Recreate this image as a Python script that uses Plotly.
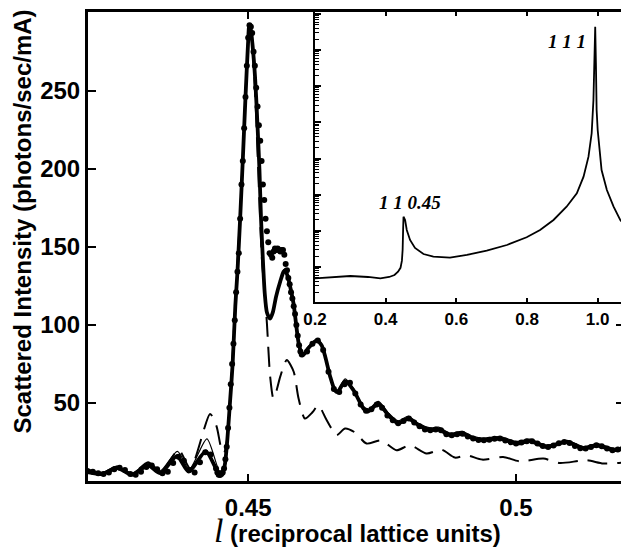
import plotly.graph_objects as go

# ---------------- main panel: measured data (dots) ----------------
l_data = [0.420, 0.421, 0.422, 0.423, 0.424, 0.425, 0.426, 0.427, 0.428, 0.429,
          0.430, 0.431, 0.432, 0.433, 0.434, 0.435, 0.436, 0.437, 0.438, 0.439,
          0.440, 0.441, 0.442, 0.443, 0.444,
          0.44425, 0.4445, 0.44475, 0.4450, 0.44525, 0.4455, 0.44575, 0.4460,
          0.44625, 0.4465, 0.44675, 0.4470, 0.44725, 0.4475, 0.44775, 0.4480,
          0.44825, 0.4485, 0.44875, 0.4490, 0.44925, 0.4495, 0.44975, 0.4500,
          0.45025, 0.4505, 0.45075, 0.4510, 0.45125, 0.4515, 0.45175, 0.4520,
          0.45225, 0.4525, 0.45275, 0.4530, 0.45325, 0.4535, 0.45375, 0.4540,
          0.45425, 0.4545, 0.45475, 0.4550, 0.45525, 0.4555, 0.45575, 0.4560,
          0.45625, 0.4565, 0.45675, 0.4570, 0.45725, 0.4575, 0.45775, 0.4580,
          0.45825, 0.4585, 0.45875, 0.4590, 0.45925, 0.4595, 0.45975, 0.4600,
          0.461, 0.462, 0.463, 0.464, 0.465, 0.466, 0.467, 0.468, 0.469, 0.470,
          0.471, 0.472, 0.473, 0.474, 0.475, 0.476, 0.477, 0.478, 0.479, 0.480,
          0.481, 0.482, 0.483, 0.484, 0.485, 0.486, 0.487, 0.488, 0.489, 0.490,
          0.491, 0.492, 0.493, 0.494, 0.495, 0.496, 0.497, 0.498, 0.499, 0.500,
          0.501, 0.502, 0.503, 0.504, 0.505, 0.506, 0.507, 0.508, 0.509, 0.510,
          0.511, 0.512, 0.513, 0.514, 0.515, 0.516, 0.517, 0.518, 0.519, 0.520]
I_data = [6.5, 6.0, 5.0, 4.5, 5.5, 7.5, 8.5, 7.0, 4.5, 4.0,
          6.0, 9.0, 10.0, 7.5, 5.0, 6.0, 11.5, 15.5, 13.0, 7.0,
          5.5, 12.0, 18.5, 17.0, 8.0,
          5.5, 4.0, 3.8, 4.5, 5.5, 8.0, 14, 22,
          34, 47, 62, 75, 88, 103, 121, 134,
          146, 168, 190, 205, 226, 246, 266, 284,
          292, 291, 287, 275, 266, 252, 240, 228,
          218, 205, 190, 180, 168, 160, 153, 146,
          145, 143, 147, 149, 148, 149, 148, 147,
          148, 148, 145, 139, 135, 130, 126, 121,
          117, 112, 107, 100, 93, 87, 83, 81,
          83, 88, 90, 84, 70, 59, 57, 62, 63, 56,
          49, 45, 46, 49, 47, 42, 39, 37, 38.5, 40,
          37.5, 35, 33, 32.5, 33, 32.5, 30, 29.3, 30, 30.3,
          28.5, 27.2, 26.3, 26.1, 26.5, 27, 27.2, 26, 24.8, 24,
          24.6, 25.4, 25.4, 24, 22.5, 21.8, 22.8, 24.2, 25, 24.3,
          22.5, 21, 20.8, 21.8, 22.9, 22.2, 20.8, 19.7, 20.2, 21]

# ---------------- main panel: fit 1 (thick solid) ----------------
l_fit1 = [0.4195, 0.4201, 0.4228, 0.4255, 0.4283, 0.4313, 0.4336, 0.4367, 0.4389, 0.4421,
          0.4447, 0.4455, 0.4460, 0.4466, 0.4471, 0.4476, 0.4480, 0.4485, 0.4490,
          0.4495, 0.4500, 0.4502, 0.4505, 0.4508, 0.4513, 0.4517, 0.4521, 0.4524,
          0.4528, 0.4531, 0.4535, 0.4541, 0.4546, 0.4552, 0.4560, 0.4566, 0.4569,
          0.4574, 0.4580, 0.4585, 0.4590, 0.4595, 0.4602, 0.4612, 0.4628, 0.4637,
          0.4644, 0.4653, 0.4662, 0.4667, 0.4681, 0.4697, 0.4715, 0.4724, 0.4743,
          0.4762, 0.4780, 0.4799, 0.4818, 0.4840, 0.4855, 0.4877, 0.4899, 0.4920,
          0.4939, 0.4970, 0.5001, 0.5026, 0.5057, 0.5095, 0.5126, 0.5151, 0.5182, 0.5200]
I_fit1 = [6.8, 6.5, 4.5, 8.5, 4.0, 10, 5, 16, 6, 19,
          4, 8, 22, 50, 75, 112, 134, 168, 206,
          246, 282, 292, 289, 280, 258, 231, 200, 168,
          138, 120, 108, 104, 108, 118, 128, 134, 135,
          131, 122, 113, 99, 87, 80.5, 85, 90, 87,
          79.5, 67, 58, 57, 64, 58, 46.5, 44.5, 49.5,
          42, 37, 40, 35.7, 32.5, 33, 29.3, 30.4, 27.2,
          26.1, 27.2, 24, 25.6, 21.8, 25, 20.8, 22.9, 19.7, 20.5]

# ---------------- main panel: fit 2 (thin solid) ----------------
l_fit2 = [0.4195, 0.4201, 0.4228, 0.4255, 0.4283, 0.4313, 0.4336, 0.4368, 0.4390, 0.4423,
          0.4447, 0.4455, 0.4460, 0.4466, 0.4471, 0.4476, 0.4480, 0.4485, 0.4490,
          0.4495, 0.4500, 0.4502, 0.4505, 0.4508, 0.4513, 0.4517, 0.4521, 0.4524,
          0.4528, 0.4531, 0.4535, 0.4541, 0.4546, 0.4552, 0.4560, 0.4566, 0.4569,
          0.4574, 0.4580, 0.4585, 0.4590, 0.4595, 0.4602, 0.4612, 0.4628, 0.4637,
          0.4644, 0.4653, 0.4662, 0.4667, 0.4681, 0.4697, 0.4715, 0.4724, 0.4743,
          0.4762, 0.4780, 0.4799, 0.4818, 0.4840, 0.4855, 0.4877, 0.4899, 0.4920,
          0.4939, 0.4970, 0.5001, 0.5026, 0.5057, 0.5095, 0.5126, 0.5151, 0.5182, 0.5200]
I_fit2 = [8.0, 7.5, 5.5, 9.5, 5.0, 11.5, 6.5, 19, 7.5, 27,
          6, 9, 22, 50, 76, 112, 134, 168, 206,
          246, 282, 292, 289, 280, 258, 231, 200, 168,
          138, 120, 107, 104, 108, 118, 129, 135, 136,
          132, 123, 114, 100, 88, 81.5, 86, 91, 88,
          80.5, 68, 59, 58, 65.5, 59, 48, 46, 51,
          43.5, 38.5, 41.5, 37, 34, 34.5, 30.7, 31.8, 28.6,
          27.5, 28.5, 25.3, 26.8, 23, 26, 22, 24, 21, 21.6]

# ---------------- main panel: fit 3 (dashed) ----------------
l_fit3 = [0.4195, 0.4201, 0.4228, 0.4255, 0.4283, 0.4313, 0.4338, 0.4370, 0.4392, 0.4429,
          0.4441, 0.4449, 0.4455, 0.4460, 0.4466, 0.4471, 0.4476, 0.4480, 0.4485,
          0.4490, 0.4495, 0.4500, 0.4502, 0.4507, 0.4512, 0.4517, 0.4522, 0.4526,
          0.4530, 0.4535, 0.4541, 0.4547, 0.4553, 0.4560, 0.4572, 0.4585, 0.4594,
          0.4606, 0.4620, 0.4631, 0.4645, 0.4655, 0.4665, 0.4681, 0.4700, 0.4721,
          0.4748, 0.4777, 0.4802, 0.4833, 0.4861, 0.4886, 0.4908, 0.4937, 0.4976,
          0.5007, 0.5051, 0.5082, 0.5131, 0.5163, 0.5200]
I_fit3 = [5.5, 5, 4, 9, 4.5, 12, 6, 20, 8, 43,
          35, 22, 18, 25, 50, 80, 115, 140, 170,
          208, 248, 283, 292, 282, 255, 215, 170, 140,
          124, 101, 67, 53, 58, 67, 77.5, 70, 53,
          40, 44, 48.5, 40, 34, 29.3, 33.6, 31, 24,
          26, 19.7, 22.9, 17.6, 20.1, 15, 16.5, 13.7, 15.4,
          12.6, 14.4, 11.5, 13.3, 11.2, 11.8]

# ---------------- inset: wide l scan (log intensity) ----------------
l_wide = [0.20, 0.25, 0.30, 0.35, 0.385, 0.41, 0.425, 0.435, 0.442, 0.446,
          0.448, 0.4495, 0.4505, 0.455, 0.4597, 0.469, 0.483, 0.507, 0.535, 0.582,
          0.63, 0.686, 0.743, 0.799, 0.837, 0.875, 0.912, 0.941, 0.96, 0.974,
          0.983, 0.988, 0.991, 0.993, 0.995, 0.997, 1.0, 1.004, 1.011, 1.026,
          1.045, 1.064, 1.07]
I_wide = [4.86, 5.2, 5.64, 5.3, 4.86, 5.3, 6.0, 7.4, 9.5, 15,
          30, 120, 247, 200, 106, 56, 33.6, 22.9, 19.3, 18.1,
          21.5, 28.2, 40.6, 66.4, 106, 200, 466, 1094, 3155, 11270,
          50100, 418000, 1.01e7, 4.46e7, 4.46e6, 2.21e5, 61700, 21300, 4830, 1350,
          466, 200, 170]

# tick labels
main_xticks = [0.45, 0.5]
main_xticklabels = ["0.45", "0.5"]
main_yticks = [50, 100, 150, 200, 250]
inset_xticks = [0.2, 0.4, 0.6, 0.8, 1.0]
inset_xticklabels = ["0.2", "0.4", "0.6", "0.8", "1.0"]

W, H = 621, 554
X_DOM = [88 / W, 1.0]
Y_DOM = [(H - 481) / H, (H - 12) / H]
XI_DOM = [315 / W, 1.0]
YI_DOM = [(H - 302) / H, (H - 12) / H]

XR = [0.4201, 0.5196]
YR = [0, 300.5]

fig = go.Figure()

fig.add_trace(go.Scatter(x=l_fit3, y=I_fit3, mode="lines",
                         line=dict(color="black", width=2, dash="20px,10px", shape="spline", smoothing=0.7),
                         xaxis="x", yaxis="y", showlegend=False))
fig.add_trace(go.Scatter(x=l_fit2, y=I_fit2, mode="lines",
                         line=dict(color="black", width=1.2, shape="spline", smoothing=0.7),
                         xaxis="x", yaxis="y", showlegend=False))
fig.add_trace(go.Scatter(x=l_fit1, y=I_fit1, mode="lines",
                         line=dict(color="black", width=3.8, shape="spline", smoothing=0.7),
                         xaxis="x", yaxis="y", showlegend=False))
fig.add_trace(go.Scatter(x=l_data, y=I_data, mode="markers",
                         marker=dict(color="black", size=6),
                         xaxis="x", yaxis="y", showlegend=False))

# overlay axes (top x ticks, right y ticks)
fig.add_trace(go.Scatter(x=[None], y=[None], xaxis="x3", yaxis="y", showlegend=False, hoverinfo="skip"))
fig.add_trace(go.Scatter(x=[None], y=[None], xaxis="x", yaxis="y3", showlegend=False, hoverinfo="skip"))

# inset
fig.add_trace(go.Scatter(x=l_wide, y=I_wide, mode="lines",
                         line=dict(color="black", width=1.8),
                         xaxis="x2", yaxis="y2", showlegend=False))

main_tickfont = dict(family="Liberation Sans, Arial, sans-serif", size=24, color="black", weight="bold")
inset_tickfont = dict(family="Liberation Sans Narrow, Arial Narrow, sans-serif", size=17, color="black", weight="bold")

fig.update_layout(
    width=W, height=H,
    margin=dict(l=0, r=0, t=0, b=0, autoexpand=False),
    paper_bgcolor="white", plot_bgcolor="white",
    showlegend=False,
    xaxis=dict(domain=X_DOM, range=XR, anchor="y", showgrid=False, zeroline=False, automargin=False,
               showline=True, linecolor="black", linewidth=3,
               ticks="inside", ticklen=7, tickwidth=2, tickcolor="black",
               tickvals=main_xticks, ticktext=main_xticklabels,
               tickfont=main_tickfont, ticklabelstandoff=3),
    xaxis3=dict(overlaying="x", side="top", anchor="y", range=XR, showgrid=False, zeroline=False,
                automargin=False,
                showline=True, linecolor="black", linewidth=2.5,
                ticks="inside", ticklen=7, tickwidth=2, tickcolor="black",
                tickvals=[0.45], showticklabels=False),
    yaxis=dict(domain=Y_DOM, range=YR, anchor="x", showgrid=False, zeroline=False, automargin=False,
               showline=True, linecolor="black", linewidth=3,
               ticks="inside", ticklen=8, tickwidth=2, tickcolor="black",
               tickvals=main_yticks, tickfont=main_tickfont),
    yaxis3=dict(overlaying="y", side="right", anchor="x", range=YR, showgrid=False, zeroline=False,
                automargin=False,
                showline=False, ticks="inside", ticklen=5, tickwidth=2, tickcolor="black",
                tickvals=[50, 100], showticklabels=False),
    xaxis2=dict(domain=XI_DOM, range=[0.2, 1.066], anchor="y2", showgrid=False, zeroline=False,
                automargin=False,
                showline=True, linecolor="black", linewidth=2, mirror="ticks",
                ticks="inside", ticklen=4, tickwidth=2, tickcolor="black",
                tickvals=inset_xticks, ticktext=inset_xticklabels,
                tickfont=inset_tickfont, ticklabelstandoff=1),
    yaxis2=dict(domain=YI_DOM, type="log", range=[0.032, 8.055], anchor="x2",
                showgrid=False, zeroline=False, automargin=False,
                showline=True, linecolor="black", linewidth=2,
                ticks="inside", ticklen=6, tickwidth=1.5, tickcolor="black",
                dtick=1, showticklabels=False,
                minor=dict(ticks="inside", ticklen=4, tickwidth=1, tickcolor="black", dtick="D1", showgrid=False)),
)

title_font = dict(family="Liberation Sans, Arial, sans-serif", size=24, color="black", weight="bold")
fig.add_annotation(xref="paper", yref="paper", x=22.5 / W, y=1 - 222 / H,
                   text="Scattered Intensity (photons/sec/mA)", textangle=-90,
                   showarrow=False, font=title_font, xanchor="center", yanchor="middle")
fig.add_annotation(xref="paper", yref="paper", x=357 / W, y=1 - 530 / H,
                   text='<span style="font-family:Liberation Serif;font-size:34px;font-weight:normal"><i>l</i></span> (reciprocal lattice units)',
                   showarrow=False, font=title_font, xanchor="center", yanchor="middle")

peak_font = dict(family="Liberation Serif, Times New Roman, serif", size=19, color="black",
                 weight="bold", style="italic")
fig.add_annotation(xref="paper", yref="paper", x=567 / W, y=1 - 42 / H, text="1 1 1",
                   showarrow=False, font=peak_font, xanchor="center", yanchor="middle")
fig.add_annotation(xref="paper", yref="paper", x=410 / W, y=1 - 202 / H, text="1 1 0.45",
                   showarrow=False, font=peak_font, xanchor="center", yanchor="middle")

fig.write_html("out.html")
